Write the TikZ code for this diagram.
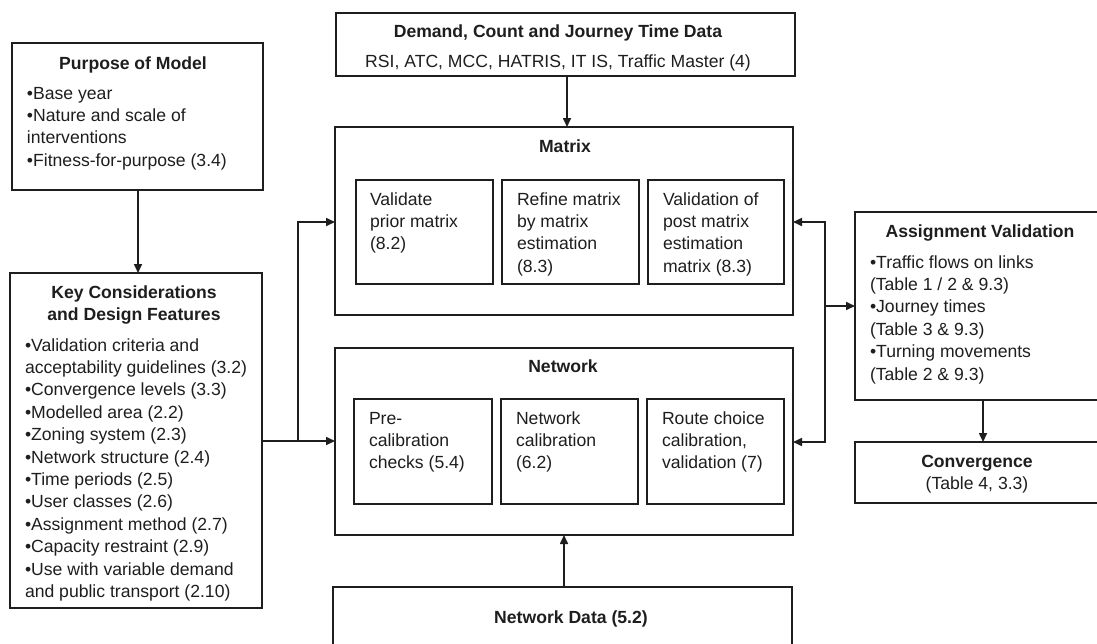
\documentclass[tikz,border=0pt]{standalone}
\usepackage{fontspec}
\setmainfont{Liberation Sans}
\usetikzlibrary{arrows.meta}
\definecolor{ink}{RGB}{30,30,30}
\newcommand\mlines[1]{\begin{tabular}[t]{@{}l@{}}#1\end{tabular}}
\newcommand\mclines[1]{\begin{tabular}[t]{@{}c@{}}#1\end{tabular}}
\begin{document}
\begin{tikzpicture}[x=1pt,y=-1pt,
  box/.style={draw=ink,line width=1.6pt,rectangle,inner sep=0pt,outer sep=0pt,anchor=north west},
  txt/.style={inner sep=0pt,outer sep=0pt,anchor=base west,text=ink,font=\fontsize{17.6}{22.4}\selectfont},
  ctxt/.style={txt,anchor=base},
  arr/.style={draw=ink,line width=1.6pt,-{Triangle[length=9pt,width=8pt]}},
  ln/.style={draw=ink,line width=1.6pt}]
\useasboundingbox (0,0) rectangle (1097,643);
\clip (0,0) rectangle (1097,643);
\fill[white] (0,0) rectangle (1097,643);
% boxes
\node[box,minimum width=251pt,minimum height=147pt] (purp) at (12,43) {};
\node[box,minimum width=252pt,minimum height=335pt] (key) at (10,273) {};
\node[box,minimum width=459pt,minimum height=63pt] (dem) at (336,13) {};
\node[box,minimum width=458pt,minimum height=188pt] (mat) at (335,127) {};
\node[box,minimum width=137pt,minimum height=104pt] (vp) at (356,180) {};
\node[box,minimum width=137pt,minimum height=104pt] (rm) at (502,180) {};
\node[box,minimum width=136pt,minimum height=104pt] (vop) at (648,180) {};
\node[box,minimum width=458pt,minimum height=187pt] (net) at (335,348) {};
\node[box,minimum width=138pt,minimum height=105pt] (pc) at (354,399) {};
\node[box,minimum width=137pt,minimum height=105pt] (nc) at (501,399) {};
\node[box,minimum width=137pt,minimum height=105pt] (rc) at (647,399) {};
\node[box,minimum width=459pt,minimum height=100pt] (nd) at (333,587) {};
\node[box,minimum width=260pt,minimum height=188pt] (av) at (855,212) {};
\node[box,minimum width=260pt,minimum height=61pt] (conv) at (855,442) {};
% texts
\node[ctxt] (purpT) at (133,69) {\textbf{Purpose of Model}};
\node[txt] (purpB) at (27,99) {\mlines{•Base year\\•Nature and scale of\\interventions\\•Fitness-for-purpose (3.4)}};
\node[ctxt] (keyT) at (134,298) {\mclines{\textbf{Key Considerations}\\\textbf{and Design Features}}};
\node[txt] (keyB) at (25,351) {\mlines{•Validation criteria and\\acceptability guidelines (3.2)\\•Convergence levels (3.3)\\•Modelled area (2.2)\\•Zoning system (2.3)\\•Network structure (2.4)\\•Time periods (2.5)\\•User classes (2.6)\\•Assignment method (2.7)\\•Capacity restraint (2.9)\\•Use with variable demand\\and public transport (2.10)}};
\node[ctxt] (demT) at (558,37) {\mclines{\textbf{Demand, Count and Journey Time Data}\\[7.6pt]RSI, ATC, MCC, HATRIS, IT IS, Traffic Master (4)}};
\node[ctxt] (matT) at (565,152) {\textbf{Matrix}};
\node[txt] (vpT) at (370,205) {\mlines{Validate\\prior matrix\\(8.2)}};
\node[txt] (rmT) at (517,205) {\mlines{Refine matrix\\by matrix\\estimation\\(8.3)}};
\node[txt] (vopT) at (663,205) {\mlines{Validation of\\post matrix\\estimation\\matrix (8.3)}};
\node[ctxt] (netT) at (563,372) {\textbf{Network}};
\node[txt] (pcT) at (369,424) {\mlines{Pre-\\calibration\\checks (5.4)}};
\node[txt] (ncT) at (516,424) {\mlines{Network\\calibration\\(6.2)}};
\node[txt] (rcT) at (662,424) {\mlines{Route choice\\calibration,\\validation (7)}};
\node[ctxt] (ndT) at (571,623) {\textbf{Network Data (5.2)}};
\node[ctxt] (avT) at (980,237) {\textbf{Assignment Validation}};
\node[txt] (avB) at (870,268) {\mlines{•Traffic flows on links\\(Table 1 / 2 \& 9.3)\\•Journey times\\(Table 3 \& 9.3)\\•Turning movements\\(Table 2 \& 9.3)}};
\node[ctxt] (convT) at (977,467) {\mclines{\textbf{Convergence}\\(Table 4, 3.3)}};
% helper coordinates
\coordinate (xP) at (138,0);
\coordinate (xD) at (567,0);
\coordinate (xN) at (564,0);
\coordinate (xA) at (983,0);
\coordinate (jL) at (298,441);
\coordinate (yM) at (0,222);
\coordinate (jR) at (825,306);
\coordinate (yN) at (0,442);
% connectors
\draw[arr] (xP |- purp.south) -- (xP |- key.north);
\draw[arr] (xD |- dem.south) -- (xD |- mat.north);
\draw[arr] (xN |- nd.north) -- (xN |- net.south);
\draw[ln] (key.east |- jL) -- (jL);
\draw[arr] (jL) -- (jL -| net.west);
\draw[arr] (jL) |- (mat.west |- yM);
\draw[arr] (jR) -- (jR -| av.west);
\draw[arr] (jR) |- (mat.east |- yM);
\draw[arr] (jR) |- (net.east |- yN);
\draw[arr] (xA |- av.south) -- (xA |- conv.north);
\end{tikzpicture}
\end{document}
